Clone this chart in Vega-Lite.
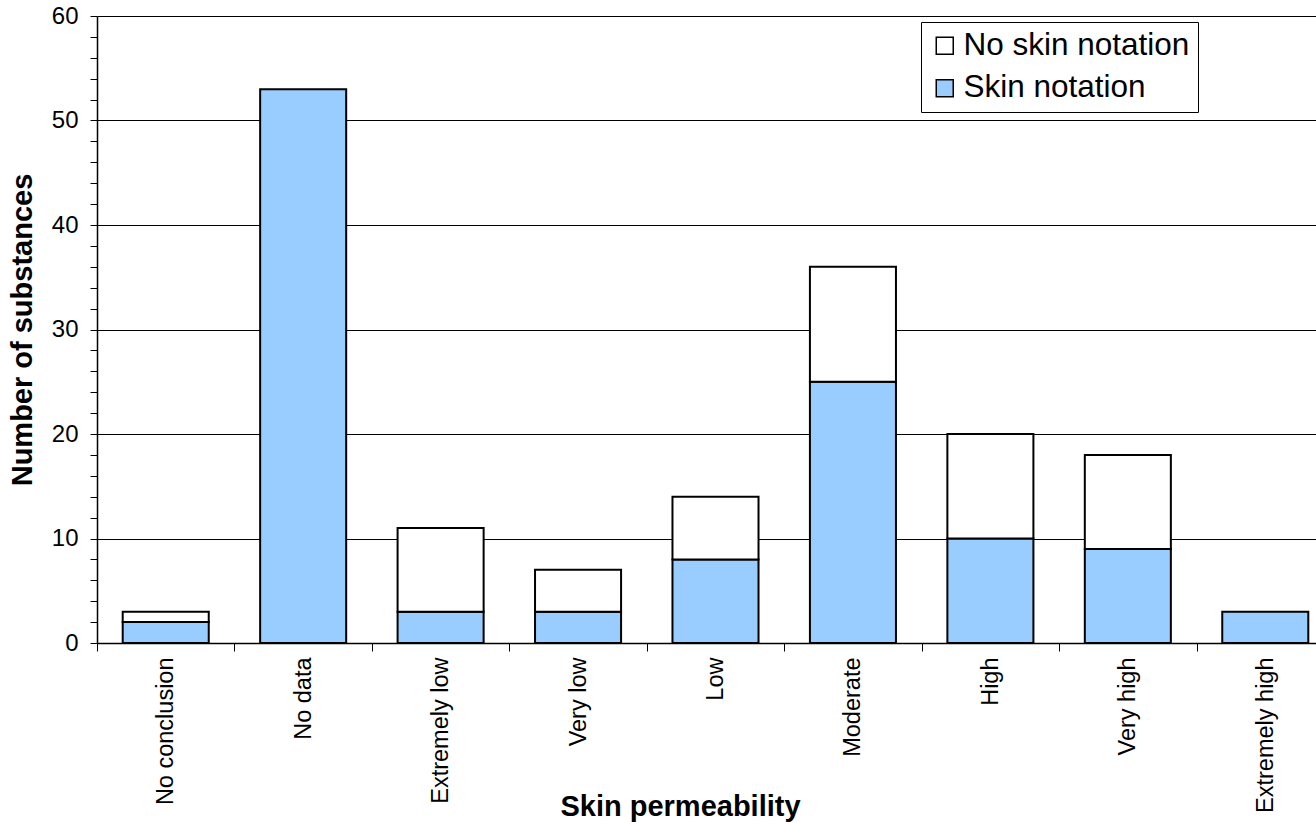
{
  "$schema": "https://vega.github.io/schema/vega-lite/v6.json",
  "autosize": {"type": "none"},
  "padding": {"left": 97, "top": 16, "right": 0, "bottom": 179},
  "width": 1237,
  "height": 627,
  "background": "white",
  "config": {
    "view": {"stroke": null},
    "font": "Liberation Sans",
    "axis": {"labelFont": "Liberation Sans", "titleFont": "Liberation Sans", "labelColor": "black", "titleColor": "black", "domainColor": "black", "tickColor": "black"}
  },
  "data": {
    "values": [
      {"category": "No conclusion", "type": "Skin notation", "count": 2},
      {"category": "No conclusion", "type": "No skin notation", "count": 1},
      {"category": "No data", "type": "Skin notation", "count": 53},
      {"category": "Extremely low", "type": "Skin notation", "count": 3},
      {"category": "Extremely low", "type": "No skin notation", "count": 8},
      {"category": "Very low", "type": "Skin notation", "count": 3},
      {"category": "Very low", "type": "No skin notation", "count": 4},
      {"category": "Low", "type": "Skin notation", "count": 8},
      {"category": "Low", "type": "No skin notation", "count": 6},
      {"category": "Moderate", "type": "Skin notation", "count": 25},
      {"category": "Moderate", "type": "No skin notation", "count": 11},
      {"category": "High", "type": "Skin notation", "count": 10},
      {"category": "High", "type": "No skin notation", "count": 10},
      {"category": "Very high", "type": "Skin notation", "count": 9},
      {"category": "Very high", "type": "No skin notation", "count": 9},
      {"category": "Extremely high", "type": "Skin notation", "count": 3}
    ]
  },
  "mark": {"type": "bar", "stroke": "black", "strokeWidth": 2, "width": {"band": 0.626}},
  "encoding": {
    "x": {
      "field": "category",
      "type": "nominal",
      "sort": ["No conclusion", "No data", "Extremely low", "Very low", "Low", "Moderate", "High", "Very high", "Extremely high"],
      "scale": {"paddingInner": 0, "paddingOuter": 0},
      "axis": {
        "title": "Skin permeability",
        "titleFontSize": 29,
        "titleFontWeight": "bold",
        "titleX": 583,
        "titleY": 172,
        "titleBaseline": "alphabetic",
        "labelAngle": -90,
        "labelFontSize": 23.5,
        "labelPadding": 6,
        "tickBand": "extent",
        "tickSize": 8,
        "tickWidth": 1,
        "domainWidth": 1.5,
        "grid": false
      }
    },
    "y": {
      "field": "count",
      "type": "quantitative",
      "stack": "zero",
      "scale": {"domain": [0, 60], "nice": false},
      "axis": {
        "title": "Number of substances",
        "titleFontSize": 29,
        "titleFontWeight": "bold",
        "titlePadding": 14,
        "values": [0,2,4,6,8,10,12,14,16,18,20,22,24,26,28,30,32,34,36,38,40,42,44,46,48,50,52,54,56,58,60],
        "labelExpr": "datum.value % 10 === 0 ? datum.label : ''",
        "labelFontSize": 24,
        "labelPadding": 12,
        "tickSize": 7,
        "tickWidth": 1,
        "domainWidth": 1.5,
        "grid": true,
        "gridColor": "black",
        "gridWidth": 1,
        "gridOpacity": {"condition": {"test": "datum.value % 10 === 0 && datum.value > 0", "value": 1}, "value": 0}
      }
    },
    "color": {
      "field": "type",
      "type": "nominal",
      "scale": {"domain": ["No skin notation", "Skin notation"], "range": ["white", "#99CCFF"]},
      "legend": {
        "title": null,
        "orient": "none",
        "legendX": 824,
        "legendY": 6,
        "symbolType": "square",
        "symbolSize": 289,
        "symbolStrokeColor": "black",
        "symbolStrokeWidth": 1.5,
        "labelFontSize": 31.5,
        "labelFont": "Liberation Sans",
        "labelColor": "black",
        "labelOffset": 3,
        "rowPadding": 9.5,
        "strokeColor": "black",
        "fillColor": "white",
        "padding": 8,
        "labelLimit": 400
      }
    },
    "order": {"field": "type", "sort": "descending"}
  }
}
